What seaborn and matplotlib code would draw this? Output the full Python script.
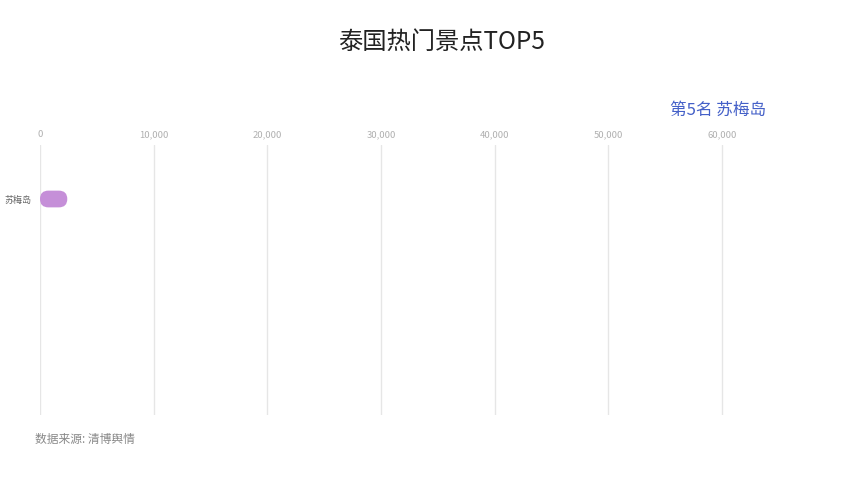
import matplotlib
matplotlib.use("Agg")
import matplotlib.pyplot as plt
import seaborn as sns
import pandas as pd
from matplotlib.patches import FancyBboxPatch
from matplotlib.ticker import FuncFormatter

# data
categories = ["苏梅岛"]
values = [2400]
x_ticks = [0, 10000, 20000, 30000, 40000, 50000, 60000]
title = "泰国热门景点TOP5"
rank_label = "第5名 苏梅岛"
source = "数据来源: 清博舆情"

sns.set_theme(style="white")
plt.rcParams['font.family'] = ['Noto Sans CJK SC', 'DejaVu Sans']

fig = plt.figure(figsize=(8.54, 4.8), dpi=100)
px_per_10k = (722 - 40) / 6.0
xmax = 61000
L, T, B = 40/854, 145/480, 415/480
R = (40 + px_per_10k * xmax / 10000) / 854
ax = fig.add_axes([L, 1 - B, R - L, B - T])

df = pd.DataFrame({"name": categories, "value": values})
sns.barplot(data=df, x="value", y="name", ax=ax, color="#c58fd8",
            width=0.31, orient="h", saturation=1)

ax.set_xlim(0, xmax)
ax.set_ylim(4, -1)
ax.set_xticks(x_ticks)
ax.xaxis.set_major_formatter(FuncFormatter(lambda v, p: f"{int(v):,}"))
ax.xaxis.tick_top()
ax.tick_params(axis="x", length=0, pad=4, labelsize=6.8, labelcolor="#b0b0b0")
ax.tick_params(axis="y", length=0, pad=6, labelsize=6.5, labelcolor="#666666")
ax.set_xlabel("")
ax.set_ylabel("")
for s in ax.spines.values():
    s.set_visible(False)
ax.grid(axis="x", color="#e6e6e6", linewidth=1)
ax.grid(axis="y", visible=False)
ax.set_axisbelow(True)

# rounded bars
fig.canvas.draw()
x_per_px = (ax.get_xlim()[1] - ax.get_xlim()[0]) / (ax.get_window_extent().width)
y_per_px = abs(ax.get_ylim()[1] - ax.get_ylim()[0]) / (ax.get_window_extent().height)
for p in list(ax.patches):
    x0, y0, w, h = p.get_x(), p.get_y(), p.get_width(), p.get_height()
    fc = p.get_facecolor()
    p.remove()
    h_px = abs(h) / y_per_px
    r_x = (h_px / 2) * x_per_px
    aspect = y_per_px / x_per_px
    fb = FancyBboxPatch((x0, y0), max(w, 2 * r_x), h,
                        boxstyle=f"round,pad=0,rounding_size={r_x}",
                        mutation_aspect=aspect, facecolor=fc, edgecolor="none")
    ax.add_patch(fb)

fig.text(442/854, 1 - 42/480, title, ha="center", va="center",
         fontsize=17.5, color="#222222")
fig.text(718/854, 1 - 110/480, rank_label, ha="center", va="center",
         fontsize=12, color="#4460c8")
fig.text(35/854, 1 - 439/480, source, ha="left", va="center",
         fontsize=8.5, color="#888888")

fig.savefig("out.png", dpi=100, facecolor="white")
